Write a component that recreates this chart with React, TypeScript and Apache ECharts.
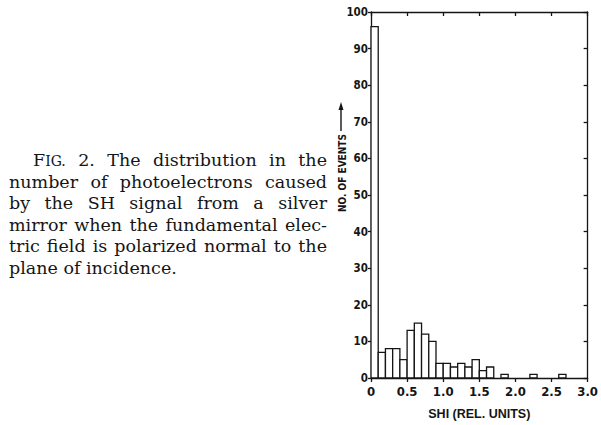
import React, { useEffect, useRef } from "react";
import * as echarts from "echarts";

// Histogram bin edges (SHI, rel. units) and counts per bin
const binEdges = [0.0, 0.1, 0.2, 0.3, 0.4, 0.5, 0.6, 0.7, 0.8, 0.9, 1.0, 1.1, 1.2, 1.3, 1.4, 1.5, 1.6, 1.7, 1.8, 1.9, 2.0, 2.1, 2.2, 2.3, 2.4, 2.5, 2.6, 2.7];
const counts = [96, 7, 8, 8, 5, 13, 15, 12, 10, 4, 4, 3, 4, 3, 5, 2, 3, 0, 1, 0, 0, 0, 1, 0, 0, 0, 1];

const xTickLabels = ["0", "0.5", "1.0", "1.5", "2.0", "2.5", "3.0"];
const yTickLabels = ["0", "10", "20", "30", "40", "50", "60", "70", "80", "90", "100"];

const xTitle = "SHI (REL. UNITS)";
const yTitle = "NO. OF EVENTS";

const captionLines = [
  "FIG. 2. The distribution in the",
  "number of photoelectrons caused",
  "by the SH signal from a silver",
  "mirror when the fundamental elec-",
  "tric field is polarized normal to the",
  "plane of incidence.",
];

const INK = "#151515";
const AXIS_FONT = "'Liberation Sans Narrow', 'DejaVu Sans Condensed', 'Roboto Condensed', sans-serif";
const SERIF = "DejaVu Serif";

function buildCaption(): any[] {
  const canvas = document.createElement("canvas");
  const ctx = canvas.getContext("2d") as CanvasRenderingContext2D;
  const size = 17.5;
  const small = 14;
  const measure = (t: string, s: number) => {
    ctx.font = `${s}px "${SERIF}"`;
    return ctx.measureText(t).width;
  };
  const els: any[] = [];
  const right = 327;
  captionLines.forEach((line, i) => {
    const words = line.split(" ");
    const left = i === 0 ? 33 : 9;
    const cy = 160 + i * 21.6;
    const widths = words.map((w) =>
      w === "FIG." ? measure("F", size) + measure("IG.", small) : measure(w, size)
    );
    const total = widths.reduce((a, b) => a + b, 0);
    const last = i === captionLines.length - 1;
    const gap = last ? measure(" ", size) : (right - left - total) / (words.length - 1);
    let x = left;
    words.forEach((w, j) => {
      if (w === "FIG.") {
        const fw = measure("F", size);
        els.push({
          type: "text", x, y: cy, silent: true,
          style: { text: "F", fontSize: size, fontFamily: SERIF, fill: INK, align: "left", verticalAlign: "middle" },
        });
        els.push({
          type: "text", x: x + fw, y: cy + 1.2, silent: true,
          style: { text: "IG.", fontSize: small, fontFamily: SERIF, fill: INK, align: "left", verticalAlign: "middle" },
        });
      } else {
        els.push({
          type: "text", x, y: cy, silent: true,
          style: { text: w, fontSize: size, fontFamily: SERIF, fill: INK, align: "left", verticalAlign: "middle" },
        });
      }
      x += widths[j] + gap;
    });
  });
  return els;
}

export default function App() {
  const ref = useRef<HTMLDivElement>(null);
  useEffect(() => {
    if (!ref.current) return;
    const chart = echarts.init(ref.current, null, { renderer: "svg" });
    const data = counts
      .map((c, i) => [binEdges[i], binEdges[i + 1], c])
      .filter((d) => d[2] > 0);
    const lineStyle = { color: INK, width: 1.3 };
    const labelFmt = (v: number) => xTickLabels[Math.round(v / 0.5)] ?? "";
    const yFmt = (v: number) => yTickLabels[Math.round(v / 10)] ?? "";
    const option: any = {
      animation: false,
      backgroundColor: "#ffffff",
      grid: { left: 371, right: 8.5, top: 12, bottom: 46, containLabel: false },
      xAxis: [
        {
          type: "value", min: 0, max: 3, interval: 0.5, position: "bottom",
          axisLine: { show: true, onZero: false, lineStyle },
          axisTick: { show: true, inside: false, length: 4, lineStyle },
          splitLine: { show: false },
          axisLabel: { formatter: labelFmt, color: INK, fontFamily: AXIS_FONT, fontWeight: "bold", fontSize: 13, margin: 7 },
          name: xTitle, nameLocation: "middle", nameGap: 29,
          nameTextStyle: { color: INK, fontFamily: "'Liberation Sans', sans-serif", fontWeight: "bold", fontSize: 12.5 },
        },
        {
          type: "value", min: 0, max: 3, interval: 0.5, position: "top",
          axisLine: { show: true, onZero: false, lineStyle },
          axisTick: { show: true, inside: true, length: 4, lineStyle },
          splitLine: { show: false },
          axisLabel: { show: false },
        },
      ],
      yAxis: [
        {
          type: "value", min: 0, max: 100, interval: 10, position: "left",
          axisLine: { show: true, onZero: false, lineStyle },
          axisTick: { show: true, inside: false, length: 3, lineStyle },
          splitLine: { show: false },
          axisLabel: { formatter: yFmt, color: INK, fontFamily: AXIS_FONT, fontWeight: "bold", fontSize: 11.5, margin: 3 },
        },
        {
          type: "value", min: 0, max: 100, interval: 10, position: "right",
          axisLine: { show: true, onZero: false, lineStyle },
          axisTick: { show: true, inside: true, length: 4, lineStyle },
          splitLine: { show: false },
          axisLabel: { show: false },
        },
      ],
      series: [
        {
          type: "custom",
          xAxisIndex: 0,
          yAxisIndex: 0,
          encode: { x: [0, 1], y: 2 },
          data,
          renderItem: (params: any, api: any) => {
            const x0 = api.value(0);
            const x1 = api.value(1);
            const y = api.value(2);
            const p0 = api.coord([x0, 0]);
            const p1 = api.coord([x1, y]);
            return {
              type: "rect",
              shape: { x: p0[0], y: p1[1], width: p1[0] - p0[0], height: p0[1] - p1[1] },
              style: { fill: "#ffffff", stroke: INK, lineWidth: 1.3 },
            };
          },
        },
      ],
      graphic: [
        {
          type: "text", x: 342, y: 173, rotation: Math.PI / 2, silent: true,
          style: { text: yTitle, fontFamily: AXIS_FONT, fontWeight: "bold", fontSize: 10, fill: INK, align: "center", verticalAlign: "middle" },
        },
        {
          type: "line", silent: true,
          shape: { x1: 341, y1: 131, x2: 341, y2: 108 },
          style: { stroke: INK, lineWidth: 1.4 },
        },
        {
          type: "polygon", silent: true,
          shape: { points: [[341, 102], [338.5, 110], [343.5, 110]] },
          style: { fill: INK },
        },
        ...buildCaption(),
      ],
    };
    chart.setOption(option);
    return () => chart.dispose();
  }, []);
  return (
    <div
      ref={ref}
      style={{ position: "absolute", left: 0, top: 0, width: 601, height: 425, background: "#fff" }}
    />
  );
}
